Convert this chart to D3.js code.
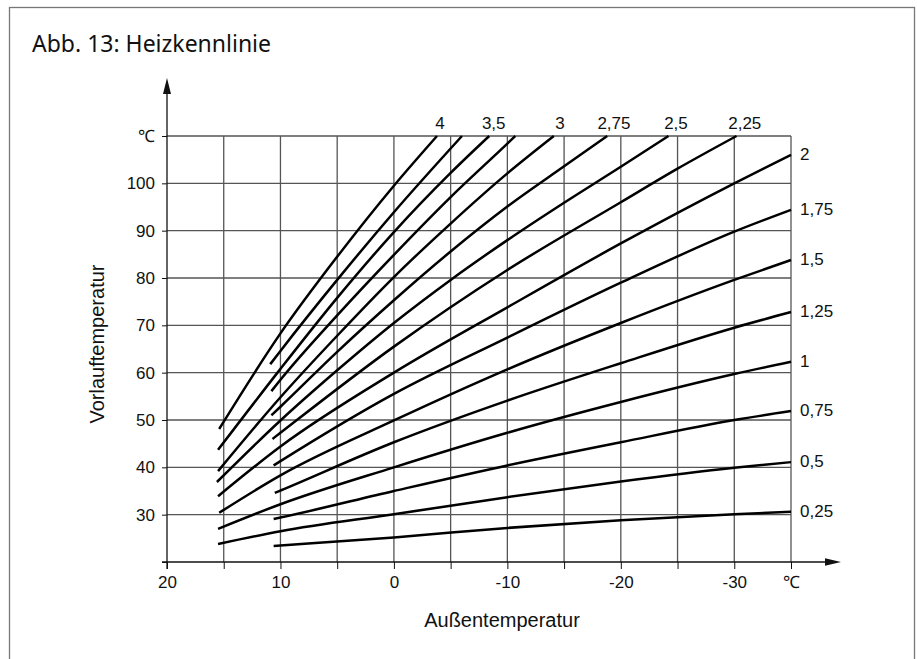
<!DOCTYPE html>
<html lang="de">
<head>
<meta charset="utf-8">
<script src="https://cdn.jsdelivr.net/npm/d3@7"></script>
<style>
    html, body { margin: 0; padding: 0; background: #fff; }
    svg { display: block; }
    .tick text { font-family: "Liberation Sans", Arial, sans-serif; font-size: 17px; fill: #111; }
    .tick line { stroke: #111; stroke-width: 1; }
    .axis-title { font-family: "Liberation Sans", Arial, sans-serif; font-size: 20px; fill: #111; }
    .curve-label { font-family: "Liberation Sans", Arial, sans-serif; font-size: 17px; fill: #111; }
    .title { font-family: "Noto Sans", "Open Sans", sans-serif; font-size: 23px; fill: #111; }
</style>
</head>
<body>
<svg id="chart" width="917" height="659"></svg>
<script>
const steilheiten = [4, 3.75, 3.5, 3.25, 3, 2.75, 2.5, 2.25, 2, 1.75, 1.5, 1.25, 1, 0.75, 0.5, 0.25];
const beschriftungen = ["4", "", "3,5", "", "3", "2,75", "2,5", "2,25", "2", "1,75", "1,5", "1,25", "1", "0,75", "0,5", "0,25"];

const kl400 = [[15.4, 48.1], [10, 68.3], [5, 84.5], [0, 99.5], [-3.8, 110]];
const kl375 = [[10.9, 61.8], [10, 64.6], [5, 79.6], [0, 93.9], [-6.0, 110]];
const kl350 = [[15.5, 43.7], [10, 60.8], [5, 75.8], [0, 89.7], [-5, 102.2], [-8.4, 110]];
const kl325 = [[10.8, 56.1], [10, 58.5], [5, 72.1], [0, 84.9], [-5, 97.1], [-10, 108.4], [-10.7, 110]];
const kl300 = [[15.5, 39.2], [10, 54.8], [5, 67.8], [0, 80.2], [-5, 91.5], [-10, 102.1], [-14.1, 110]];
const kl275 = [[10.8, 51.0], [10, 52.8], [5, 64.4], [0, 75.3], [-5, 85.6], [-10, 95.1], [-15, 103.6], [-18.8, 110]];
const kl250 = [[15.6, 36.9], [10, 49.9], [5, 60.5], [0, 70.5], [-5, 79.6], [-10, 88.0], [-15, 95.9], [-20, 103.5], [-24.2, 110]];
const kl225 = [[10.7, 46.0], [10, 47.3], [0, 65.5], [-10, 81.7], [-20, 96.0], [-25, 103.1], [-30.2, 110]];
const kl200 = [[15.5, 33.9], [10, 44.4], [0, 60.0], [-10, 73.8], [-20, 87.3], [-30, 100.0], [-35, 106.0]];
const kl175 = [[10.6, 40.4], [10, 41.3], [0, 55.5], [-10, 67.4], [-20, 79.0], [-30, 89.8], [-35, 94.4]];
const kl150 = [[15.4, 30.4], [10, 38.3], [0, 49.9], [-10, 60.7], [-20, 70.5], [-30, 79.6], [-35, 83.8]];
const kl125 = [[10.5, 34.6], [10, 35.1], [0, 45.3], [-10, 54.1], [-20, 62.0], [-30, 69.5], [-35, 72.8]];
const kl100 = [[15.5, 27.0], [10, 32.2], [0, 40.0], [-10, 47.3], [-20, 53.8], [-30, 59.7], [-35, 62.3]];
const kl075 = [[10.6, 29.1], [10, 29.4], [0, 35.0], [-10, 40.4], [-20, 45.3], [-30, 50.0], [-35, 51.9]];
const kl050 = [[15.5, 23.8], [10, 26.5], [0, 30.1], [-10, 33.7], [-20, 37.0], [-30, 39.9], [-35, 41.1]];
const kl025 = [[10.6, 23.4], [10, 23.5], [0, 25.2], [-10, 27.2], [-20, 28.8], [-30, 30.1], [-35, 30.6]];

const kurven = [kl400, kl375, kl350, kl325, kl300, kl275, kl250, kl225,
    kl200, kl175, kl150, kl125, kl100, kl075, kl050, kl025];

// Achsen
const xTicks = [20, 15, 10, 5, 0, -5, -10, -15, -20, -25, -30, -35];
const xTickLabels = ["20", "", "10", "", "0", "", "-10", "", "-20", "", "-30", "℃"];
const yTicks = [20, 30, 40, 50, 60, 70, 80, 90, 100, 110];
const yTickLabels = ["", "30", "40", "50", "60", "70", "80", "90", "100", "℃"];

const svg = d3.select("#chart");

const x = d3.scaleLinear().domain([20, -35]).range([167, 791]);
const y = d3.scaleLinear().domain([20, 110]).range([562, 136]);

// Rahmen und Titel
svg.append("rect")
    .attr("x", 9.5).attr("y", 7.5)
    .attr("width", 905).attr("height", 670)
    .attr("fill", "none").attr("stroke", "#777").attr("stroke-width", 1.3);

svg.append("text").attr("class", "title")
    .attr("x", 32).attr("y", 52)
    .text("Abb. 13: Heizkennlinie");

// Gitter
const grid = svg.append("g").attr("stroke", "#555").attr("stroke-width", 1.3);
grid.selectAll("line.v")
    .data(xTicks.slice(1))
    .join("line")
    .attr("class", "v")
    .attr("x1", (d) => x(d)).attr("x2", (d) => x(d))
    .attr("y1", y(110)).attr("y2", y(20));
grid.selectAll("line.h")
    .data(yTicks.slice(1))
    .join("line")
    .attr("class", "h")
    .attr("x1", x(20)).attr("x2", x(-35))
    .attr("y1", (d) => y(d)).attr("y2", (d) => y(d));

// Tick-Beschriftungen
const xAxis = svg.append("g")
    .attr("transform", `translate(0,${y(20)})`)
    .call(d3.axisBottom(x).tickValues(xTicks).tickSize(7).tickPadding(7)
        .tickFormat((d, i) => xTickLabels[i]));
xAxis.select(".domain").remove();

const yAxis = svg.append("g")
    .attr("transform", `translate(${x(20)},0)`)
    .call(d3.axisLeft(y).tickValues(yTicks).tickSize(5).tickPadding(7)
        .tickFormat((d, i) => yTickLabels[i]));
yAxis.select(".domain").remove();

// Achslinien mit Pfeilen
const axes = svg.append("g");
axes.append("line")
    .attr("x1", x(20) - 5).attr("x2", 828)
    .attr("y1", y(20)).attr("y2", y(20))
    .attr("stroke", "#111").attr("stroke-width", 1.3);
axes.append("path")
    .attr("d", `M841,${y(20)} L825,${y(20) - 3.8} L825,${y(20) + 3.8} Z`)
    .attr("fill", "#111");
axes.append("line")
    .attr("x1", x(20)).attr("x2", x(20))
    .attr("y1", y(20) + 7).attr("y2", 92)
    .attr("stroke", "#111").attr("stroke-width", 1.3);
axes.append("path")
    .attr("d", `M${x(20)},78 L${x(20) - 4},94 L${x(20) + 4},94 Z`)
    .attr("fill", "#111");

svg.append("text").attr("class", "axis-title")
    .attr("x", 502).attr("y", 627)
    .attr("text-anchor", "middle")
    .text("Außentemperatur");

svg.append("text").attr("class", "axis-title")
    .attr("transform", "translate(104,344) rotate(-90)")
    .attr("text-anchor", "middle")
    .text("Vorlauftemperatur");

// Kurven
const line = d3.line()
    .x((d) => x(d[0]))
    .y((d) => y(d[1]))
    .curve(d3.curveMonotoneX);

svg.append("g")
    .selectAll("path")
    .data(kurven)
    .join("path")
    .attr("d", line)
    .attr("fill", "none")
    .attr("stroke", "#000")
    .attr("stroke-width", 2.5)
    .attr("stroke-linecap", "butt");

// Kurvenbeschriftungen: oben (Ende bei 110 °C) oder rechts (Ende bei -35 °C)
const labels = svg.append("g");
kurven.forEach((pts, i) => {
    const text = beschriftungen[i];
    if (!text) return;
    const last = pts[pts.length - 1];
    if (last[0] > -35) {
        labels.append("text").attr("class", "curve-label")
            .attr("x", x(last[0]) + 3 + 3 * (4 - steilheiten[i]))
            .attr("y", y(last[1]) - 7)
            .attr("text-anchor", "middle")
            .text(text);
    } else {
        labels.append("text").attr("class", "curve-label")
            .attr("x", x(last[0]) + 9)
            .attr("y", y(last[1]))
            .attr("dy", "0.3em")
            .text(text);
    }
});
</script>
</body>
</html>
